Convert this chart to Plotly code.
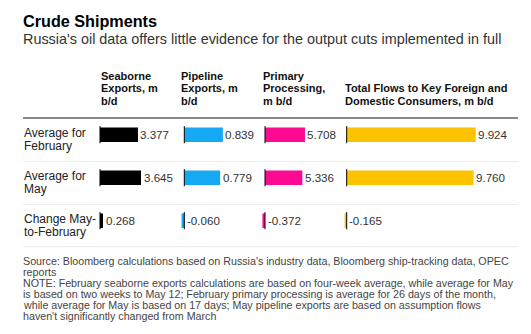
import plotly.graph_objects as go

# ---------------- data ----------------
row_labels = [["Average for", "February"], ["Average for", "May"], ["Change May-", "to-February"]]
col_headers = [
    ["Seaborne", "Exports, m", "b/d"],
    ["Pipeline", "Exports, m", "b/d"],
    ["Primary", "Processing,", "m b/d"],
    ["Total Flows to Key Foreign and", "Domestic Consumers, m b/d"],
]
seaborne = [3.377, 3.645, 0.268]
pipeline = [0.839, 0.779, -0.060]
primary = [5.708, 5.336, -0.372]
total = [9.924, 9.760, -0.165]
series = [seaborne, pipeline, primary, total]

title = "Crude Shipments"
subtitle = "Russia's oil data offers little evidence for the output cuts implemented in full"
source_lines = [
    "Source: Bloomberg calculations based on Russia's industry data, Bloomberg ship-tracking data, OPEC",
    "reports",
    "NOTE: February seaborne exports calculations are based on four-week average, while average for May",
    "is based on two weeks to May 12; February primary processing is average for 26 days of the month,",
    "while average for May is based on 17 days; May pipeline exports are based on assumption flows",
    "haven't significantly changed from March",
]

# ---------------- layout geometry ----------------
W, H = 531, 334
FONT = "Liberation Sans, Arial, sans-serif"
colors = ["#000000", "#14a9f2", "#fc0a92", "#fec300"]
axis_px = [100, 184.3, 265, 346.7]        # pixel position of each column's zero
px_per_unit = [11.25, 46.0, 7.0, 13.0]    # pixel scale of each column
header_x = [101, 180.7, 263.3, 345]
row0_px, row_step = 134.7, 43.0
bar_px = 14.5


def fx(x):
    return x / W


def fy(y):
    return 1 - y / H


fig = go.Figure()
axnames = ["x", "x2", "x3", "x4"]
rows = list(range(len(row_labels)))

for i, vals in enumerate(series):
    fig.add_trace(go.Bar(
        x=vals, y=rows, orientation="h", xaxis=axnames[i], yaxis="y",
        marker=dict(color=colors[i], line=dict(width=0)),
        width=bar_px / row_step, hoverinfo="skip", showlegend=False,
    ))

layout = dict(
    width=W, height=H, margin=dict(l=0, r=0, t=0, b=0),
    paper_bgcolor="white", plot_bgcolor="rgba(0,0,0,0)",
    showlegend=False, font=dict(family=FONT),
    yaxis=dict(range=[(H - row0_px) / row_step, -row0_px / row_step],
               visible=False, domain=[0, 1], fixedrange=True),
)
for i, name in enumerate(axnames):
    a, s = axis_px[i], px_per_unit[i]
    key = "xaxis" if i == 0 else "xaxis%d" % (i + 1)
    ax = dict(range=[-a / s, (W - a) / s], visible=False, domain=[0, 1], fixedrange=True)
    if i > 0:
        ax["overlaying"] = "x"
    layout[key] = ax
fig.update_layout(**layout)

shapes = []
annotations = []

# zero lines per bar and value labels
for i, vals in enumerate(series):
    for r in rows:
        shapes.append(dict(type="line", xref=axnames[i], yref="y", x0=0, x1=0,
                           y0=r - 0.2, y1=r + 0.2, line=dict(color="#000000", width=1),
                           layer="above"))
        v = vals[r]
        annotations.append(dict(
            xref=axnames[i], yref="y", x=max(v, 0), y=r, text="%.3f" % v,
            showarrow=False, xanchor="left", yanchor="middle", xshift=2.5,
            borderpad=0, borderwidth=0,
            font=dict(family=FONT, size=11.6, color="#333333")))

# rules
shapes.append(dict(type="line", xref="paper", yref="paper", x0=fx(23), x1=fx(518),
                   y0=fy(118), y1=fy(118), line=dict(color="#111111", width=1.2)))
for yy in [161.7, 204.5, 246.7]:
    shapes.append(dict(type="line", xref="paper", yref="paper", x0=fx(23), x1=fx(518),
                       y0=fy(yy), y1=fy(yy), line=dict(color="#ececec", width=1)))

# row labels
for r, lines in enumerate(row_labels):
    for k, t in enumerate(lines):
        annotations.append(dict(
            xref="paper", yref="y", x=fx(23.5), y=r, text=t, showarrow=False,
            xanchor="left", yanchor="middle", yshift=2.0 - 13.2 * k,
            borderpad=0, borderwidth=0,
            font=dict(family=FONT, size=12, color="#222222")))

# column headers (bottom aligned)
base_bottom = 104.5
for i, lines in enumerate(col_headers):
    n = len(lines)
    for k, t in enumerate(lines):
        baseline = base_bottom - 12.4 * (n - 1 - k)
        annotations.append(dict(
            xref="paper", yref="paper", x=fx(header_x[i]), y=fy(baseline - 3.85),
            text="<b>%s</b>" % t, showarrow=False, xanchor="left", yanchor="middle",
            borderpad=0, borderwidth=0,
            font=dict(family=FONT, size=11, color="#111111")))

# title / subtitle
annotations.append(dict(xref="paper", yref="paper", x=fx(23), y=fy(26.2 - 5.6),
                        text="<b>%s</b>" % title, showarrow=False, xanchor="left",
                        yanchor="middle", borderpad=0, borderwidth=0,
                        font=dict(family=FONT, size=16.2, color="#000000")))
annotations.append(dict(xref="paper", yref="paper", x=fx(23), y=fy(43.8 - 4.9),
                        text=subtitle, showarrow=False, xanchor="left",
                        yanchor="middle", borderpad=0, borderwidth=0,
                        font=dict(family=FONT, size=14.4, color="#333333")))

# source / notes
for k, t in enumerate(source_lines):
    baseline = 265 + 10.9 * k
    annotations.append(dict(xref="paper", yref="paper", x=fx(23), y=fy(baseline - 3.8),
                            text=t, showarrow=False, xanchor="left", yanchor="middle",
                            borderpad=0, borderwidth=0,
                            font=dict(family=FONT, size=10.7, color="#444444")))

fig.update_layout(shapes=shapes, annotations=annotations)
fig.write_html("out.html", config={"displayModeBar": False})
